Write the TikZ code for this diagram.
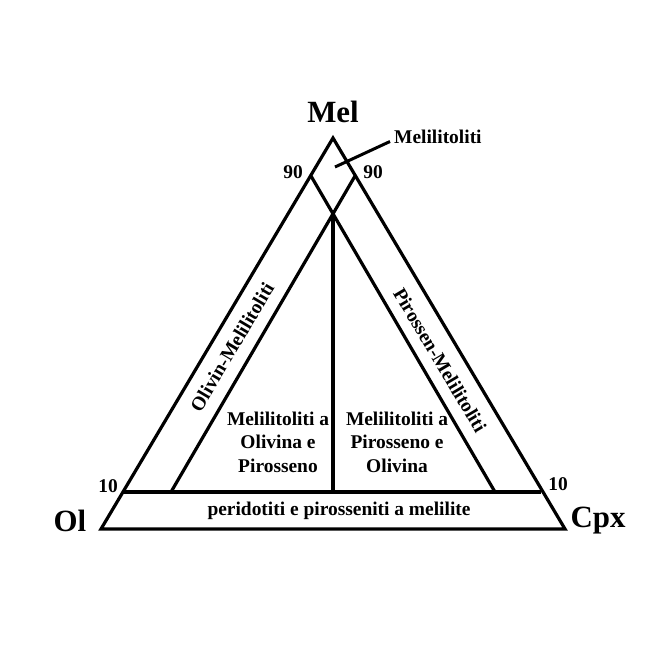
\documentclass[tikz,border=0pt]{standalone}
\usepackage{fontspec}
\setmainfont{Liberation Serif}
\usetikzlibrary{calc,intersections}
\begin{document}
\begin{tikzpicture}[x=1bp,y=-1bp,line join=miter,
  edge/.style={line width=3.2bp},
  small/.style={font=\fontsize{19.5}{23.5}\selectfont\bfseries},
  big/.style={font=\fontsize{31}{34}\selectfont\bfseries},
  region/.style={small,align=center,inner sep=0pt}]
\useasboundingbox (0,0) rectangle (666,666);
\fill[white] (0,0) rectangle (666,666);
% vertices
\coordinate (A) at (101,529);
\coordinate (B) at (565,529);
\coordinate (C) at (333,138);
\coordinate (L90) at (311,176);
\coordinate (R90) at (355,176);
\coordinate (L10) at (124,492);
\coordinate (R10) at (541,492);
\coordinate (P2) at (171,492);
\coordinate (P1) at (495,492);
% outer triangle
\draw[edge] (A) -- (B) -- (C) -- cycle;
% 10 line
\draw[edge] (L10) -- (R10);
% inner lines
\draw[edge,name path=la] (L90) -- (P1);
\draw[edge,name path=lb] (R90) -- (P2);
\path[name intersections={of=la and lb,by=X}];
\coordinate (M) at (X |- L10);
\draw[edge] (X) -- (M);
% leader
\coordinate (lead) at (335,167);
\node[small,anchor=west,inner sep=0pt] (melt) at (394,137) {Melilitoliti};
\draw[line width=3bp] (lead) -- (390,141.5);
% vertex labels
\node[big] (mel) at (333,112) {Mel};
\node[big] (ol) at (70,521) {Ol};
\node[big] (cpx) at (598,521) {Cpx};
% tick labels
\node[small] (t90l) at (293,172) {90};
\node[small] (t90r) at (373,172) {90};
\node[small] (t10l) at (108,486) {10};
\node[small] (t10r) at (558,484) {10};
% band labels
\node[small,rotate=59.3] (olm) at (232,347) {Olivin-Melilitoliti};
\node[small,rotate=-59.3] (pym) at (440,360) {Pirossen-Melilitoliti};
% region labels
\node[region] (r1) at (278,442) {Melilitoliti a\\Olivina e\\Pirosseno};
\node[region] (r2) at (397,442) {Melilitoliti a\\Pirosseno e\\Olivina};
\node[small] (r3) at (339,511) {peridotiti e pirosseniti a melilite};
\end{tikzpicture}
\end{document}
